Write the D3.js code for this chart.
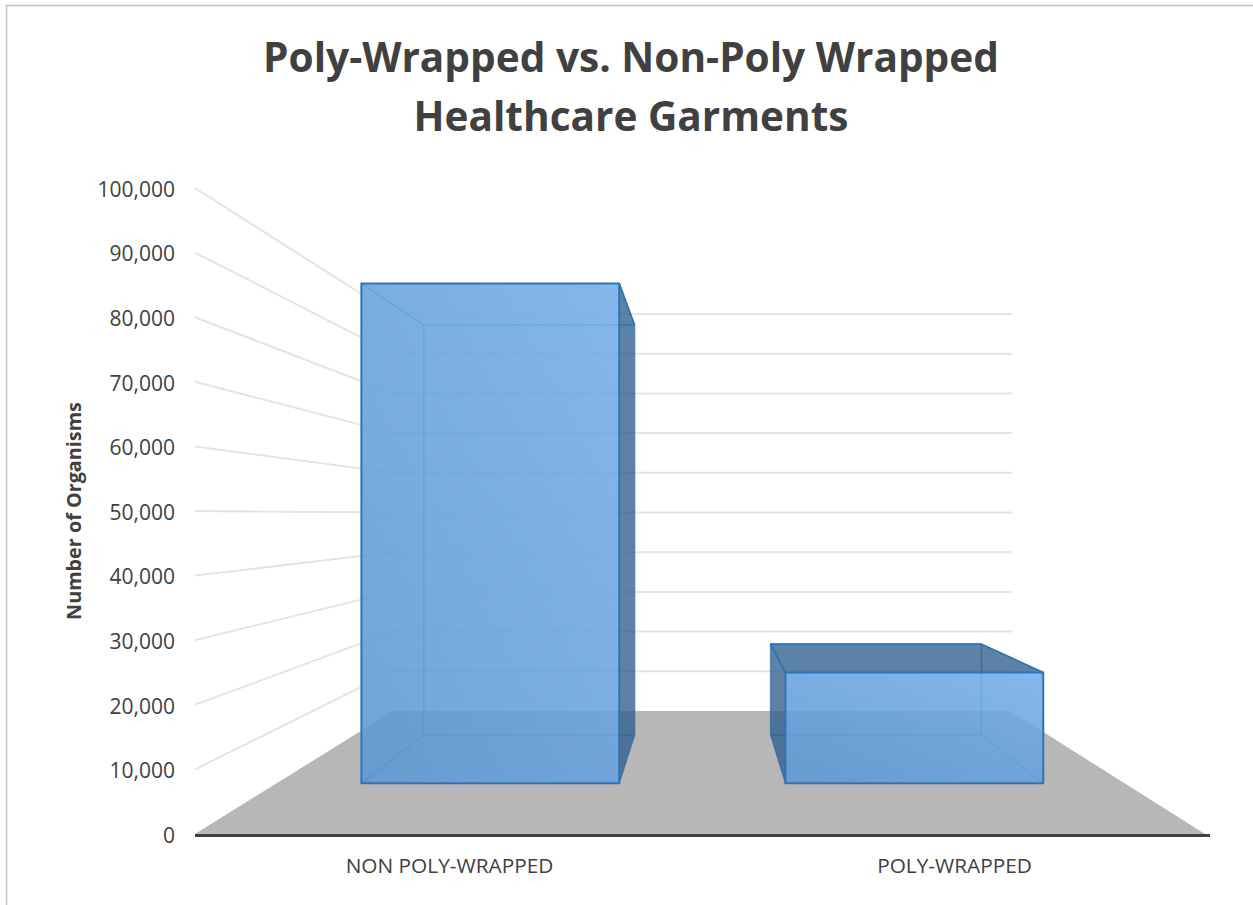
<!DOCTYPE html>
<html><head><meta charset="utf-8">
<script src="https://cdnjs.cloudflare.com/ajax/libs/d3/7.8.5/d3.min.js"></script>
<style>html,body{margin:0;padding:0;background:#fff}svg{display:block}text{font-family:"Open Sans",Lato,sans-serif}</style>
</head><body><svg id="c" width="1253" height="905"></svg>
<script>
const categories = ["NON POLY-WRAPPED", "POLY-WRAPPED"];
const organisms = [92000, 20400];
const tickValues = [0,10000,20000,30000,40000,50000,60000,70000,80000,90000,100000];
const titleLines = ["Poly-Wrapped vs. Non-Poly Wrapped", "Healthcare Garments"];
const axisTitle = "Number of Organisms";

const svg = d3.select("#c");
const W = 1253, H = 905;

// Chart frame
svg.append("rect").attr("x",6.5).attr("y",5.5).attr("width",W+20).attr("height",H+20)
  .attr("fill","#fff").attr("stroke","#bfbfbf").attr("stroke-width",1.5);

// Plane scales: front plane of the floor and back wall
const yFront = d3.scaleLinear().domain([0,100000]).range([834,188]);
const yBack  = d3.scaleLinear().domain([0,100000]).range([711,314]);
const xFront = d3.scaleLinear().domain([0,1]).range([195,1205]);
const xBack  = d3.scaleLinear().domain([0,1]).range([393,1010]);
const barDepth = {front:0.412, back:0.805};

function P(u,v,t){
  return [ xFront(u)+(xBack(u)-xFront(u))*t, yFront(v)+(yBack(v)-yFront(v))*t ];
}
const line = pts => "M"+pts.map(p=>p.join(",")).join("L");
const poly = pts => line(pts)+"Z";

// Floor
svg.append("path").attr("d",poly([P(0,0,0),P(1,0,0),P(1,0,1),P(0,0,1)])).attr("fill","#b7b7b7");

// Gridlines on side wall and back wall
const grid = svg.append("g").attr("fill","none").attr("stroke","#e4e4e4").attr("stroke-width",2);
tickValues.filter(v=>v>0).forEach(v=>{
  grid.append("path").attr("d",line([P(0,v,0),P(0,v,1),[xBack(1)+2,yBack(v)]]));
});

// Front gradient
const defs = svg.append("defs");
const grad = defs.append("linearGradient").attr("id","frontFill")
  .attr("x1","0").attr("y1","1").attr("x2","1").attr("y2","0");
grad.append("stop").attr("offset","0").attr("stop-color","#5a97d2");
grad.append("stop").attr("offset","1").attr("stop-color","#72adea");

// Bars
const band = d3.scaleBand().domain(categories).range([0.002,1.002]).paddingInner(0.392).paddingOuter(0.196);
const edge = "#2f74b5";
categories.forEach((c,i)=>{
  const v = organisms[i], u0 = band(c), u1 = u0+band.bandwidth();
  const f = barDepth.front, b = barDepth.back;
  const A=P(u0,v,f), B=P(u1,v,f), C=P(u1,0,f), D=P(u0,0,f);
  const E=P(u0,v,b), F=P(u1,v,b), G=P(u1,0,b), H_=P(u0,0,b);
  const g = svg.append("g").attr("stroke-linejoin","round");
  const dark = (test,pts)=>{ if(test) g.append("path").attr("d",poly(pts)).attr("fill","#2f5f90").attr("fill-opacity",0.78); };
  dark(F[0]>B[0],[B,F,G,C]);
  dark(E[0]<A[0],[A,E,H_,D]);
  dark(E[1]<A[1],[A,E,F,B]);
  g.append("path").attr("d",line([E,F,G,H_,E])+line([A,E])+line([B,F])+line([C,G])+line([D,H_]))
    .attr("fill","none").attr("stroke","#2a6299").attr("stroke-opacity",0.6).attr("stroke-width",1.5);
  g.append("path").attr("d",poly([A,B,C,D])).attr("fill","url(#frontFill)").attr("fill-opacity",0.87)
    .attr("stroke",edge).attr("stroke-width",2);
  if(F[0]>B[0]) g.append("path").attr("d",line([B,F])).attr("fill","none").attr("stroke",edge).attr("stroke-width",1.5);
  if(E[1]<A[1]) g.append("path").attr("d",line([A,E,F,B])).attr("fill","none").attr("stroke",edge).attr("stroke-width",1.5);
});

// Baseline
svg.append("line").attr("x1",xFront(0)).attr("x2",xFront(1)+5).attr("y1",yFront(0)+1.5).attr("y2",yFront(0)+1.5)
  .attr("stroke","#404040").attr("stroke-width",3);

// Value axis
const yAxis = d3.axisLeft(yFront).tickValues(tickValues).tickFormat(d3.format(",")).tickSize(0).tickPadding(20);
const ya = svg.append("g").attr("transform",`translate(${xFront(0)},1.5)`).call(yAxis);
ya.select(".domain").remove();
ya.selectAll("text").attr("fill","#404040").style("font-size","21px");

// Category axis
const xPix = band.copy().range([xFront(0.002),xFront(1.002)]);
const xAxis = d3.axisBottom(xPix).tickSize(0).tickPadding(24);
const xa = svg.append("g").attr("transform",`translate(0,${yFront(0)})`).call(xAxis);
xa.select(".domain").remove();
xa.selectAll("text").attr("fill","#404040").style("font-size","20.8px");

// Axis title
svg.append("text").attr("transform","translate(80.5,511) rotate(-90)").attr("text-anchor","middle")
  .attr("fill","#404040").style("font-size","19.8px").style("font-weight",700).text(axisTitle);

// Title
svg.append("g").selectAll("text").data(titleLines).join("text")
  .attr("x",631).attr("y",(d,i)=>71.5+i*59).attr("text-anchor","middle")
  .attr("fill","#404040").style("font-size","40.6px").style("font-weight",700).text(d=>d);
</script></body></html>
